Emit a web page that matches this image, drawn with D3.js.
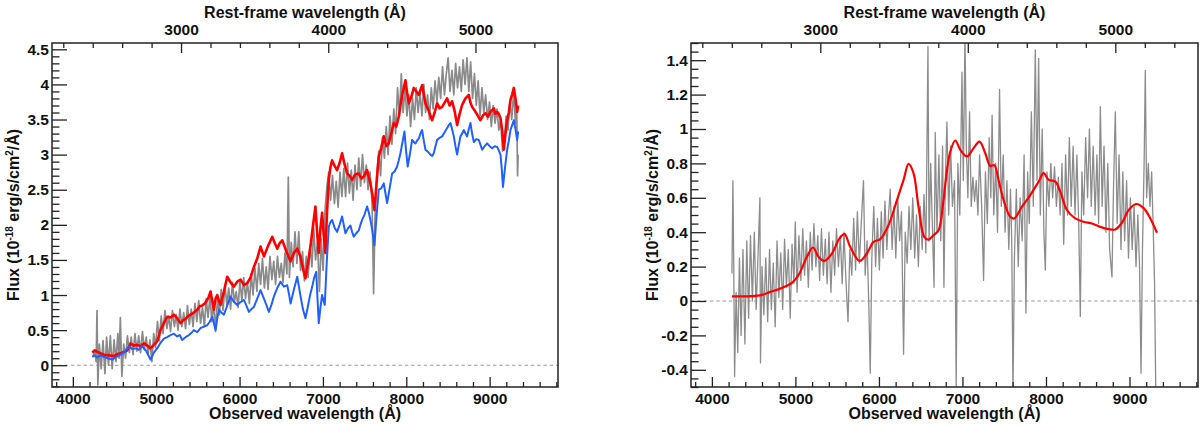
<!DOCTYPE html>
<html>
<head>
<meta charset="utf-8">
<script src="https://cdn.jsdelivr.net/npm/d3@7"></script>
<style>
  body { margin: 0; background: #fff; }
  svg text { font-family: "Liberation Sans", Arial, Helvetica, sans-serif; font-weight: bold; fill: #111; }
  .tick text { font-size: 15.5px; }
  .axis-title { font-size: 16px; }
</style>
</head>
<body>
<div id="chart"></div>
<script>
// Observed-frame range shared by both panels, and the redshift used for the top axis
const obsDomain = [3750, 9820];
const redshift = 0.766;

// Tick values
const obsTicks = [4000, 5000, 6000, 7000, 8000, 9000];
const restTicks = [3000, 4000, 5000];
const fluxTicksLeft = [0, 0.5, 1, 1.5, 2, 2.5, 3, 3.5, 4, 4.5];
const fluxTicksRight = [-0.4, -0.2, 0, 0.2, 0.4, 0.6, 0.8, 1, 1.2, 1.4];

// Left panel: observed spectrum (gray), red model, blue model  [wavelength, flux]
const spectrumLeft = [
  [4240,0.12],[4262,0.22],[4280,0.05],[4290,0.78],[4300,-0.28],[4318,0.30],[4340,-0.05],[4362,0.35],
  [4385,-0.12],[4405,0.40],[4428,0.00],[4450,0.42],[4472,-0.05],[4495,0.36],[4518,0.05],[4540,0.45],
  [4555,0.10],[4570,0.68],[4588,-0.16],[4610,0.30],[4632,0.10],[4655,0.42],[4678,0.18],[4700,0.40],
  [4722,0.15],[4745,0.45],[4768,0.20],[4790,0.42],[4812,0.18],[4835,0.48],[4858,0.22],[4880,0.40],
  [4903,0.15],[4925,0.36],[4948,0.05],[4970,0.45],[4992,0.25],[5015,0.62],[5038,0.35],[5060,0.70],
  [5082,0.45],[5105,0.78],[5128,0.52],[5150,0.70],[5172,0.48],[5195,0.78],[5218,0.55],[5240,0.72],
  [5262,0.50],[5285,0.80],[5308,0.55],[5330,0.75],[5352,0.52],[5375,0.85],[5398,0.58],[5420,0.80],
  [5442,0.55],[5465,0.88],[5488,0.62],[5510,0.92],[5532,0.60],[5555,0.82],[5578,0.55],[5600,0.95],
  [5622,0.68],[5645,0.98],[5668,0.62],[5690,0.90],[5712,0.48],[5735,0.95],[5758,0.72],[5780,1.08],
  [5802,0.78],[5825,1.15],[5848,0.85],[5870,1.10],[5892,0.80],[5915,1.18],[5938,0.90],[5960,1.05],
  [5982,0.82],[6005,1.20],[6028,0.92],[6050,1.25],[6072,0.95],[6095,1.18],[6118,0.88],[6140,1.30],
  [6162,1.00],[6185,1.38],[6208,1.05],[6230,1.45],[6252,1.15],[6275,1.52],[6298,1.10],[6320,1.40],
  [6342,1.08],[6365,1.55],[6388,1.22],[6410,1.48],[6432,1.15],[6455,1.55],[6478,1.25],[6500,1.45],
  [6522,1.18],[6545,1.60],[6568,1.30],[6585,2.68],[6598,1.25],[6620,1.75],[6642,1.40],[6665,1.90],
  [6688,1.45],[6710,1.90],[6732,1.35],[6755,1.62],[6778,1.20],[6800,1.55],[6822,1.25],[6845,1.70],
  [6868,1.40],[6890,1.95],[6912,1.50],[6935,1.75],[6958,1.05],[6980,1.80],[7002,1.35],[7025,2.20],
  [7048,2.55],[7070,2.75],[7092,2.35],[7115,2.70],[7138,2.30],[7160,2.62],[7182,2.25],[7205,2.75],
  [7228,2.40],[7250,2.80],[7272,2.40],[7295,2.88],[7318,2.45],[7340,2.78],[7362,2.35],[7385,2.85],
  [7408,2.50],[7430,2.95],[7452,2.55],[7475,3.00],[7498,2.60],[7520,2.85],[7542,2.50],[7565,2.75],
  [7590,2.30],[7608,1.02],[7625,2.10],[7648,2.75],[7670,3.05],[7692,2.70],[7715,3.25],[7738,2.95],
  [7760,3.40],[7782,3.00],[7805,3.55],[7828,3.15],[7850,3.65],[7872,3.30],[7895,3.95],[7918,3.55],
  [7940,4.15],[7962,3.60],[7985,3.95],[8008,3.55],[8030,3.85],[8052,3.40],[8075,3.80],[8098,3.50],
  [8120,3.95],[8142,3.60],[8165,3.88],[8188,3.55],[8210,4.00],[8232,3.60],[8255,3.85],[8278,3.50],
  [8300,3.95],[8322,3.65],[8345,4.05],[8368,3.75],[8390,4.10],[8412,3.80],[8435,4.25],[8458,3.85],
  [8480,4.15],[8502,4.38],[8525,3.90],[8548,4.20],[8570,3.85],[8592,4.30],[8615,3.95],[8638,4.25],
  [8660,3.90],[8682,4.35],[8705,4.00],[8728,4.38],[8750,3.90],[8772,4.32],[8795,3.80],[8818,4.15],
  [8840,3.70],[8862,4.05],[8885,3.55],[8908,3.95],[8930,3.60],[8952,3.85],[8975,3.50],[8998,3.75],
  [9020,3.40],[9042,3.70],[9065,3.45],[9088,3.65],[9110,3.35],[9132,3.50],[9155,3.05],[9175,3.20],
  [9198,3.55],[9220,3.35],[9242,3.75],[9265,3.50],[9288,3.90],[9310,3.45],[9325,3.65],[9335,2.70],
  [9342,3.00]
];

const redModelLeft = [
  [4233,0.18],[4262,0.21],[4293,0.19],[4330,0.17],[4372,0.15],[4432,0.14],[4492,0.13],[4532,0.16],
  [4572,0.17],[4612,0.19],[4652,0.21],[4692,0.31],[4732,0.28],[4772,0.29],[4812,0.27],[4852,0.31],
  [4892,0.28],[4932,0.24],[4972,0.29],[5012,0.34],[5052,0.50],[5092,0.60],[5132,0.69],[5172,0.68],
  [5212,0.72],[5252,0.67],[5292,0.60],[5322,0.64],[5352,0.66],[5382,0.70],[5412,0.72],[5452,0.75],
  [5492,0.79],[5522,0.84],[5552,0.85],[5582,0.88],[5612,0.93],[5632,0.98],[5652,1.05],[5672,0.92],
  [5692,0.79],[5712,0.95],[5732,1.00],[5752,0.92],[5772,0.86],[5812,1.05],[5852,1.26],[5892,1.18],
  [5932,1.12],[5972,1.19],[6012,1.22],[6052,1.14],[6092,1.17],[6132,1.25],[6172,1.40],[6212,1.52],
  [6252,1.69],[6272,1.62],[6292,1.55],[6342,1.70],[6392,1.83],[6422,1.74],[6452,1.66],[6482,1.74],
  [6512,1.78],[6562,1.62],[6612,1.48],[6652,1.60],[6692,1.66],[6730,1.55],[6760,1.38],[6790,1.24],
  [6820,1.45],[6850,1.69],[6880,1.98],[6910,2.26],[6930,1.90],[6950,1.60],[6970,1.95],[6990,2.17],
  [7010,1.85],[7030,1.60],[7050,2.20],[7070,2.64],[7090,2.82],[7110,2.92],[7140,2.84],[7170,2.78],
  [7200,2.88],[7230,3.02],[7260,2.86],[7290,2.73],[7320,2.70],[7350,2.64],[7390,2.72],[7430,2.73],
  [7460,2.66],[7490,2.69],[7530,2.78],[7550,2.68],[7570,2.59],[7595,2.42],[7618,2.21],[7645,2.62],
  [7670,2.97],[7700,3.10],[7730,3.26],[7760,3.12],[7790,3.16],[7820,3.30],[7850,3.45],[7880,3.40],
  [7910,3.54],[7930,3.70],[7950,3.85],[7970,3.95],[7990,4.06],[8010,3.88],[8030,3.73],[8060,3.82],
  [8090,3.95],[8120,3.90],[8150,3.85],[8170,3.92],[8190,3.99],[8210,3.86],[8230,3.73],[8270,3.62],
  [8310,3.49],[8340,3.60],[8370,3.73],[8400,3.66],[8430,3.68],[8460,3.74],[8490,3.80],[8520,3.70],
  [8550,3.76],[8580,3.62],[8610,3.42],[8640,3.58],[8670,3.71],[8710,3.80],[8750,3.85],[8770,3.74],
  [8790,3.68],[8830,3.61],[8860,3.55],[8890,3.49],[8920,3.56],[8950,3.59],[8980,3.54],[9010,3.61],
  [9050,3.66],[9070,3.58],[9090,3.61],[9110,3.58],[9130,3.52],[9150,3.35],[9170,3.07],[9190,3.30],
  [9210,3.49],[9230,3.60],[9250,3.78],[9270,3.86],[9290,3.95],[9310,3.80],[9330,3.61],[9342,3.70]
];

const blueModelLeft = [
  [4233,0.12],[4263,0.14],[4293,0.11],[4332,0.14],[4372,0.12],[4422,0.10],[4472,0.08],[4522,0.12],
  [4572,0.15],[4622,0.19],[4672,0.27],[4712,0.23],[4752,0.24],[4792,0.22],[4832,0.27],[4882,0.20],
  [4932,0.08],[4972,0.18],[5012,0.24],[5052,0.32],[5092,0.38],[5132,0.40],[5172,0.43],[5212,0.45],
  [5252,0.41],[5282,0.43],[5312,0.36],[5352,0.40],[5392,0.43],[5422,0.46],[5452,0.50],[5492,0.47],
  [5532,0.53],[5572,0.55],[5612,0.57],[5642,0.62],[5672,0.69],[5692,0.60],[5712,0.50],[5732,0.66],
  [5752,0.79],[5782,0.75],[5812,0.72],[5852,0.85],[5892,0.98],[5932,0.90],[5972,0.86],[6012,0.90],
  [6052,0.93],[6082,0.85],[6112,0.76],[6142,0.80],[6172,0.83],[6212,0.95],[6252,1.07],[6302,0.92],
  [6352,0.76],[6382,0.86],[6412,0.98],[6452,1.10],[6492,1.19],[6532,1.12],[6572,1.14],[6592,1.02],
  [6612,0.88],[6652,1.08],[6692,1.26],[6712,1.12],[6732,0.98],[6760,0.80],[6790,0.67],[6810,0.78],
  [6830,0.90],[6850,1.02],[6872,1.12],[6895,1.25],[6920,1.33],[6935,0.95],[6950,0.60],[6970,0.82],
  [6990,1.00],[7005,0.93],[7022,0.86],[7045,1.45],[7070,1.97],[7090,2.04],[7110,2.07],[7140,1.96],
  [7170,1.90],[7200,2.00],[7230,2.12],[7250,2.00],[7270,1.88],[7300,1.95],[7330,1.99],[7350,1.90],
  [7370,1.83],[7400,1.88],[7430,1.92],[7450,2.00],[7470,2.07],[7500,2.15],[7530,2.26],[7550,2.18],
  [7570,2.07],[7595,1.90],[7618,1.71],[7645,2.15],[7670,2.50],[7700,2.52],[7730,2.59],[7750,2.45],
  [7770,2.31],[7800,2.52],[7830,2.73],[7860,2.76],[7890,2.83],[7910,2.92],[7930,3.02],[7955,3.18],
  [7978,3.33],[7998,3.05],[8017,2.83],[8045,3.02],[8070,3.21],[8090,3.18],[8110,3.16],[8130,3.20],
  [8150,3.23],[8170,3.30],[8190,3.35],[8210,3.20],[8230,3.07],[8260,3.04],[8290,3.00],[8310,2.98],
  [8330,3.02],[8350,3.12],[8370,3.21],[8400,3.24],[8430,3.26],[8460,3.32],[8490,3.38],[8510,3.42],
  [8530,3.45],[8550,3.36],[8570,3.26],[8590,3.12],[8610,3.00],[8630,3.14],[8650,3.26],[8670,3.30],
  [8690,3.35],[8710,3.30],[8730,3.26],[8750,3.36],[8770,3.45],[8790,3.30],[8810,3.18],[8840,3.22],
  [8870,3.21],[8890,3.14],[8910,3.07],[8940,3.12],[8970,3.16],[9000,3.12],[9030,3.09],[9060,3.12],
  [9090,3.11],[9110,3.06],[9130,3.00],[9145,2.80],[9160,2.54],[9185,2.82],[9210,3.07],[9230,3.20],
  [9250,3.35],[9270,3.42],[9290,3.49],[9310,3.36],[9330,3.21],[9342,3.33]
];

// Right panel: residual spectrum (gray) and smooth red fit  [wavelength, flux]
const spectrumRight = [
  [4240,0.16],[4252,0.70],[4262,0.20],[4272,-0.44],[4290,0.05],[4310,-0.30],[4330,0.25],[4350,-0.20],
  [4372,0.30],[4395,-0.25],[4418,0.35],[4440,-0.10],[4462,0.38],[4485,0.00],[4508,0.40],[4530,-0.05],
  [4555,0.30],[4575,0.60],[4582,-0.36],[4600,0.20],[4622,-0.08],[4645,0.25],[4668,-0.12],[4690,0.30],
  [4712,-0.05],[4735,0.22],[4758,-0.15],[4780,0.35],[4802,0.02],[4825,0.28],[4848,-0.05],[4870,0.36],
  [4892,0.08],[4915,0.30],[4938,-0.10],[4960,0.33],[4982,0.10],[4998,0.46],[5020,0.05],[5042,0.38],
  [5065,0.12],[5088,0.42],[5110,0.15],[5132,0.35],[5155,0.08],[5178,0.40],[5200,0.18],[5222,0.45],
  [5245,0.20],[5268,0.38],[5290,0.12],[5312,0.42],[5335,0.15],[5358,0.36],[5380,0.10],[5402,0.40],
  [5425,0.05],[5448,0.35],[5470,0.15],[5492,0.42],[5515,0.20],[5538,0.38],[5560,0.10],[5582,0.40],
  [5605,0.12],[5630,-0.12],[5652,0.30],[5675,0.15],[5698,0.48],[5720,0.18],[5742,0.52],[5765,0.22],
  [5788,0.45],[5815,0.70],[5835,0.15],[5858,0.35],[5880,-0.05],[5896,-0.42],[5915,0.25],[5938,0.55],
  [5960,0.20],[5982,0.48],[6005,0.18],[6028,0.52],[6050,0.25],[6072,0.58],[6095,0.30],[6115,0.50],
  [6135,0.65],[6158,0.30],[6180,0.55],[6202,0.25],[6225,0.60],[6248,0.35],[6270,0.52],[6295,-0.31],
  [6315,0.40],[6338,0.22],[6360,0.55],[6382,0.30],[6405,0.60],[6428,0.25],[6450,0.50],[6472,0.20],
  [6495,0.55],[6518,0.30],[6540,0.62],[6562,0.28],[6587,1.48],[6600,0.35],[6620,0.80],[6642,0.40],
  [6660,0.08],[6674,0.98],[6695,0.40],[6718,0.85],[6740,0.35],[6762,0.90],[6778,0.08],[6795,0.70],
  [6814,1.04],[6835,0.50],[6858,0.90],[6880,0.55],[6905,0.70],[6925,-0.50],[6945,0.80],[6968,0.50],
  [6994,1.33],[7010,0.70],[7030,1.55],[7046,0.90],[7065,0.60],[7085,1.10],[7105,0.55],[7125,0.72],
  [7145,0.58],[7165,0.70],[7185,0.50],[7205,0.85],[7230,0.55],[7253,0.12],[7275,0.75],[7298,0.45],
  [7320,0.95],[7340,0.60],[7355,1.08],[7375,0.50],[7398,0.80],[7420,0.40],[7444,1.23],[7465,0.55],
  [7488,0.85],[7510,0.40],[7532,0.70],[7555,0.30],[7575,0.65],[7590,0.35],[7605,-0.55],[7622,0.25],
  [7645,0.65],[7668,0.20],[7690,0.60],[7715,0.35],[7738,0.85],[7760,-0.07],[7780,0.75],[7800,0.45],
  [7825,1.10],[7848,0.55],[7872,1.46],[7892,0.70],[7912,1.41],[7932,0.50],[7955,1.00],[7975,0.40],
  [7992,0.18],[8012,0.75],[8035,0.55],[8058,0.80],[8080,0.60],[8102,0.78],[8125,0.55],[8148,0.72],
  [8170,0.50],[8192,0.80],[8212,0.33],[8235,0.85],[8258,0.50],[8280,0.95],[8302,0.55],[8325,0.90],
  [8348,0.50],[8370,0.85],[8392,0.45],[8411,-0.09],[8430,0.75],[8452,0.50],[8475,0.95],[8498,0.60],
  [8520,1.00],[8542,0.55],[8565,0.90],[8588,0.50],[8610,0.85],[8630,0.45],[8651,1.13],[8672,0.55],
  [8695,0.90],[8718,0.40],[8740,0.80],[8762,0.30],[8790,0.14],[8810,0.70],[8830,1.10],[8852,0.45],
  [8875,0.85],[8898,0.30],[8920,0.75],[8942,0.35],[8965,0.70],[8988,0.25],[9010,0.60],[9032,0.30],
  [9055,0.55],[9078,0.20],[9100,0.50],[9120,0.20],[9138,-0.42],[9155,0.30],[9175,0.80],[9189,1.34],
  [9205,0.60],[9225,0.80],[9245,0.55],[9265,0.75],[9285,0.40],[9300,0.10],[9315,-0.55],[9330,-0.55]
];

const redFitRight = [
  [4240,0.027],[4379,0.027],[4578,0.033],[4698,0.053],[4818,0.072],[4958,0.105],[5037,0.15],[5138,0.257],
  [5210,0.311],[5277,0.257],[5345,0.233],[5437,0.276],[5528,0.364],[5588,0.389],[5656,0.315],[5768,0.233],
  [5856,0.276],[5935,0.344],[6016,0.36],[6115,0.441],[6216,0.587],[6295,0.704],[6355,0.797],[6414,0.743],
  [6474,0.548],[6543,0.373],[6594,0.357],[6654,0.383],[6714,0.412],[6774,0.59],[6800,0.70],[6850,0.86],
  [6914,0.933],[6974,0.879],[7054,0.84],[7133,0.889],[7205,0.927],[7273,0.859],[7333,0.785],[7381,0.79],
  [7432,0.704],[7492,0.587],[7572,0.49],[7620,0.48],[7713,0.548],[7812,0.616],[7912,0.694],[7972,0.743],
  [8032,0.704],[8112,0.694],[8171,0.636],[8251,0.529],[8351,0.48],[8450,0.461],[8551,0.451],[8650,0.431],
  [8750,0.418],[8830,0.416],[8910,0.455],[8990,0.529],[9081,0.564],[9169,0.54],[9249,0.48],[9329,0.397]
];

const panels = [
  {
    id: "left", left: 52, right: 558, top: 43, bottom: 387,
    yDomain: [-0.31, 4.59], yTicks: fluxTicksLeft, yMinorStep: 0.1,
    labelX: 19,
    series: [
      { data: spectrumLeft, color: "#8a8a8a", width: 1.7, curve: d3.curveLinear },
      { data: redModelLeft, color: "#ff0000", width: 2.6, curve: d3.curveLinear },
      { data: blueModelLeft, color: "#2060ff", width: 2, curve: d3.curveLinear }
    ]
  },
  {
    id: "right", left: 691, right: 1198, top: 43, bottom: 387,
    yDomain: [-0.5, 1.5], yTicks: fluxTicksRight, yMinorStep: 0.05,
    labelX: 658,
    series: [
      { data: spectrumRight, color: "#8c8c8c", width: 1.3, curve: d3.curveLinear },
      { data: redFitRight, color: "#ff0000", width: 2.2, curve: d3.curveCatmullRom.alpha(0.5) }
    ]
  }
];

const svg = d3.select("#chart")
  .append("svg")
  .attr("width", 1200)
  .attr("height", 426)
  .style("display", "block");

svg.append("rect").attr("width", 1200).attr("height", 426).attr("fill", "#fff");

const defs = svg.append("defs");

// Minor tick positions between lo and hi at a fixed step
function minorValues(lo, hi, step) {
  const start = Math.ceil(lo / step - 1e-6);
  const out = [];
  for (let i = start; i * step <= hi + 1e-9; i++) out.push(+(i * step).toFixed(4));
  return out;
}

const fmt = d => String(d);

panels.forEach(p => {
  const x = d3.scaleLinear().domain(obsDomain).range([p.left, p.right]);
  const xRest = d3.scaleLinear()
    .domain(obsDomain.map(w => w / (1 + redshift)))
    .range([p.left, p.right]);
  const y = d3.scaleLinear().domain(p.yDomain).range([p.bottom, p.top]);

  defs.append("clipPath").attr("id", "clip-" + p.id)
    .append("rect")
    .attr("x", p.left).attr("y", p.top)
    .attr("width", p.right - p.left).attr("height", p.bottom - p.top);

  const plot = svg.append("g").attr("clip-path", `url(#clip-${p.id})`);

  // Zero line
  plot.append("line")
    .attr("x1", p.left).attr("x2", p.right)
    .attr("y1", y(0)).attr("y2", y(0))
    .attr("stroke", "#9a9a9a")
    .attr("stroke-width", 1.2)
    .attr("stroke-dasharray", "3.5,2.8");

  // Spectra
  p.series.forEach(s => {
    const line = d3.line()
      .x(d => x(d[0]))
      .y(d => y(d[1]))
      .curve(s.curve);
    plot.append("path")
      .datum(s.data)
      .attr("fill", "none")
      .attr("stroke", s.color)
      .attr("stroke-width", s.width)
      .attr("stroke-linejoin", "round")
      .attr("d", line);
  });

  const axisColor = "#222";

  // Bottom axis (observed)
  svg.append("g")
    .attr("transform", `translate(0,${p.bottom})`)
    .attr("color", axisColor)
    .call(d3.axisBottom(x).tickValues(obsTicks).tickSize(-10).tickPadding(5.5).tickFormat(d3.format("d")))
    .call(g => g.select(".domain").remove());
  svg.append("g")
    .attr("transform", `translate(0,${p.bottom})`)
    .attr("color", axisColor)
    .call(d3.axisBottom(x).tickValues(minorValues(3800, 9800, 200).filter(v => !obsTicks.includes(v))).tickSize(-5).tickFormat(""))
    .call(g => g.select(".domain").remove());

  // Top axis (rest frame)
  svg.append("g")
    .attr("transform", `translate(0,${p.top})`)
    .attr("color", axisColor)
    .call(d3.axisTop(xRest).tickValues(restTicks).tickSize(-10).tickPadding(8).tickFormat(d3.format("d")))
    .call(g => g.select(".domain").remove());
  svg.append("g")
    .attr("transform", `translate(0,${p.top})`)
    .attr("color", axisColor)
    .call(d3.axisTop(xRest).tickValues(minorValues(2200, 5400, 200).filter(v => !restTicks.includes(v))).tickSize(-5).tickFormat(""))
    .call(g => g.select(".domain").remove());

  // Left axis (flux)
  svg.append("g")
    .attr("transform", `translate(${p.left},0)`)
    .attr("color", axisColor)
    .call(d3.axisLeft(y).tickValues(p.yTicks).tickSize(-15).tickPadding(3).tickFormat(fmt))
    .call(g => g.select(".domain").remove());
  const yMinor = minorValues(p.yDomain[0], p.yDomain[1], p.yMinorStep)
    .filter(v => !p.yTicks.some(t => Math.abs(t - v) < 1e-6));
  svg.append("g")
    .attr("transform", `translate(${p.left},0)`)
    .attr("color", axisColor)
    .call(d3.axisLeft(y).tickValues(yMinor).tickSize(-7.5).tickFormat(""))
    .call(g => g.select(".domain").remove());

  svg.selectAll(".tick line").attr("stroke-width", 1.3);

  // Frame
  svg.append("rect")
    .attr("x", p.left).attr("y", p.top)
    .attr("width", p.right - p.left).attr("height", p.bottom - p.top)
    .attr("fill", "none")
    .attr("stroke", axisColor)
    .attr("stroke-width", 1.5);

  // Axis titles
  const cx = (p.left + p.right) / 2;
  svg.append("text")
    .attr("class", "axis-title")
    .attr("x", cx).attr("y", 419)
    .attr("text-anchor", "middle")
    .text("Observed wavelength (Å)");

  svg.append("text")
    .attr("class", "axis-title")
    .attr("x", cx).attr("y", 18)
    .attr("text-anchor", "middle")
    .text("Rest-frame wavelength (Å)");

  const yl = svg.append("text")
    .attr("class", "axis-title")
    .attr("transform", `translate(${p.labelX},${(p.top + p.bottom) / 2}) rotate(-90)`)
    .attr("text-anchor", "middle");
  yl.append("tspan").text("Flux (10");
  yl.append("tspan").attr("dy", -6).style("font-size", "10px").text("-18");
  yl.append("tspan").attr("dy", 6).text(" erg/s/cm");
  yl.append("tspan").attr("dy", -6).style("font-size", "10px").text("2");
  yl.append("tspan").attr("dy", 6).text("/Å)");
});
</script>
</body>
</html>
